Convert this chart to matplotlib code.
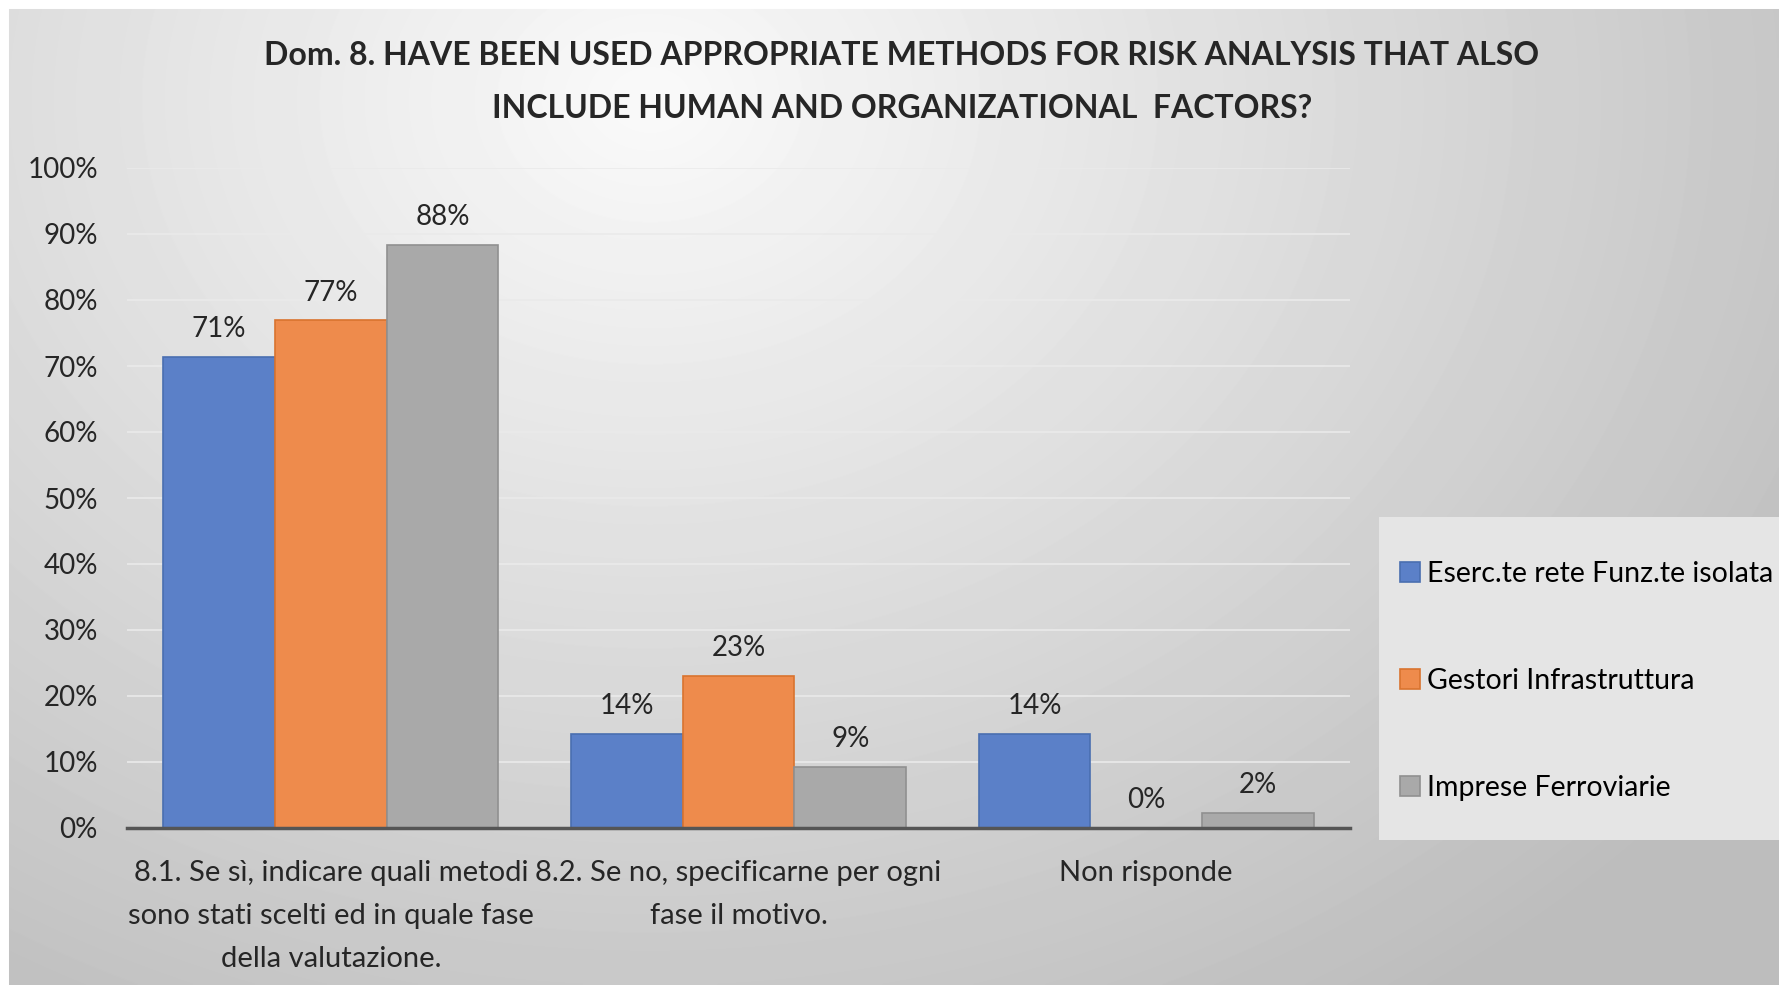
import numpy as np
import matplotlib.pyplot as plt
from matplotlib.patches import Rectangle

# dati del grafico
categorie = ['8.1. Se sì, indicare quali metodi\nsono stati scelti ed in quale fase\ndella valutazione.',
             '8.2. Se no, specificarne per ogni\nfase il motivo.',
             'Non risponde']
serie = ['Eserc.te rete Funz.te isolata', 'Gestori Infrastruttura', 'Imprese Ferroviarie']
eserc = [0.714, 0.143, 0.143]
gestori = [0.769, 0.231, 0.0]
imprese = [0.884, 0.093, 0.023]
etichette = [['71%', '14%', '14%'], ['77%', '23%', '0%'], ['88%', '9%', '2%']]
tick_y = [0, 0.1, 0.2, 0.3, 0.4, 0.5, 0.6, 0.7, 0.8, 0.9, 1.0]
titolo = 'Dom. 8. HAVE BEEN USED APPROPRIATE METHODS FOR RISK ANALYSIS THAT ALSO\nINCLUDE HUMAN AND ORGANIZATIONAL  FACTORS?'

colori = ['#5b80c8', '#ee8b4c', '#a9a9a9']
bordi = ['#4a6fb0', '#d9732f', '#909090']

plt.rcParams['font.family'] = ['Lato', 'DejaVu Sans']

W, H = 1779, 985
fig = plt.figure(figsize=(W / 100, H / 100), dpi=100)

# sfondo sfumato
bg = fig.add_axes([0, 0, 1, 1], zorder=-10)
yy, xx = np.mgrid[0:H, 0:W]
d = np.sqrt(((xx - 650) / 1250.0) ** 2 + ((yy - 100) / 1000.0) ** 2)
val = np.clip(0.98 - 0.22 * d, 0.74, 1.0)
val[:9, :] = 1.0
val[:, :9] = 1.0
bg.imshow(val, cmap='gray', vmin=0, vmax=1, aspect='auto', interpolation='bilinear')
bg.axis('off')

# riquadro legenda
fig.patches.append(Rectangle((1379 / W, 1 - 840 / H), (W - 1379) / W, (840 - 517) / H,
                             transform=fig.transFigure, facecolor='#e5e5e5',
                             edgecolor='none', zorder=-5))

ax = fig.add_axes([127 / W, 1 - 828 / H, (1350 - 127) / W, (828 - 168) / H])
ax.set_facecolor('none')

x = np.arange(len(categorie))
w = 0.274
valori = [eserc, gestori, imprese]
barre = []
for i, v in enumerate(valori):
    b = ax.bar(x + (i - 1) * w, v, w, color=colori[i], edgecolor=bordi[i],
               linewidth=1.2, label=serie[i], zorder=3)
    barre.append(b)
    for xi, vi, lab in zip(x, v, etichette[i]):
        ax.annotate(lab, (xi + (i - 1) * w, vi), xytext=(0, 10.5), textcoords='offset points',
                    ha='center', va='bottom', fontsize=20, color='#262626')

ax.set_xlim(-0.5, 2.5)
ax.set_ylim(0, 1)
ax.set_yticks(tick_y)
ax.set_yticklabels([f'{int(round(t * 100))}%' for t in tick_y], fontsize=20, color='#262626')
ax.set_xticks(x)
ax.set_xticklabels(categorie, fontsize=21, color='#262626', linespacing=1.8)
ax.tick_params(axis='both', length=0)
ax.tick_params(axis='x', pad=23)
ax.tick_params(axis='y', pad=21)

ax.grid(axis='y', color='#eaeaea', linewidth=1.2, zorder=0)
for s in ['top', 'right', 'left']:
    ax.spines[s].set_visible(False)
ax.spines['bottom'].set_color('#555555')
ax.spines['bottom'].set_linewidth(2.5)
ax.spines['bottom'].set_zorder(4)

fig.text(0.5 * (232 + 1358) / 1568, 1 - 82 / H, titolo, ha='center', va='center',
         fontsize=23, fontweight='bold', color='#262626', linespacing=1.98)

fig.legend(handles=barre, labels=serie, loc='center left',
           bbox_to_anchor=(1374 / W, 1 - 681 / H), frameon=False, fontsize=20.5,
           labelspacing=2.85, handlelength=0.7, handleheight=0.7, handletextpad=0.25)

fig.savefig('out.png', dpi=100)
